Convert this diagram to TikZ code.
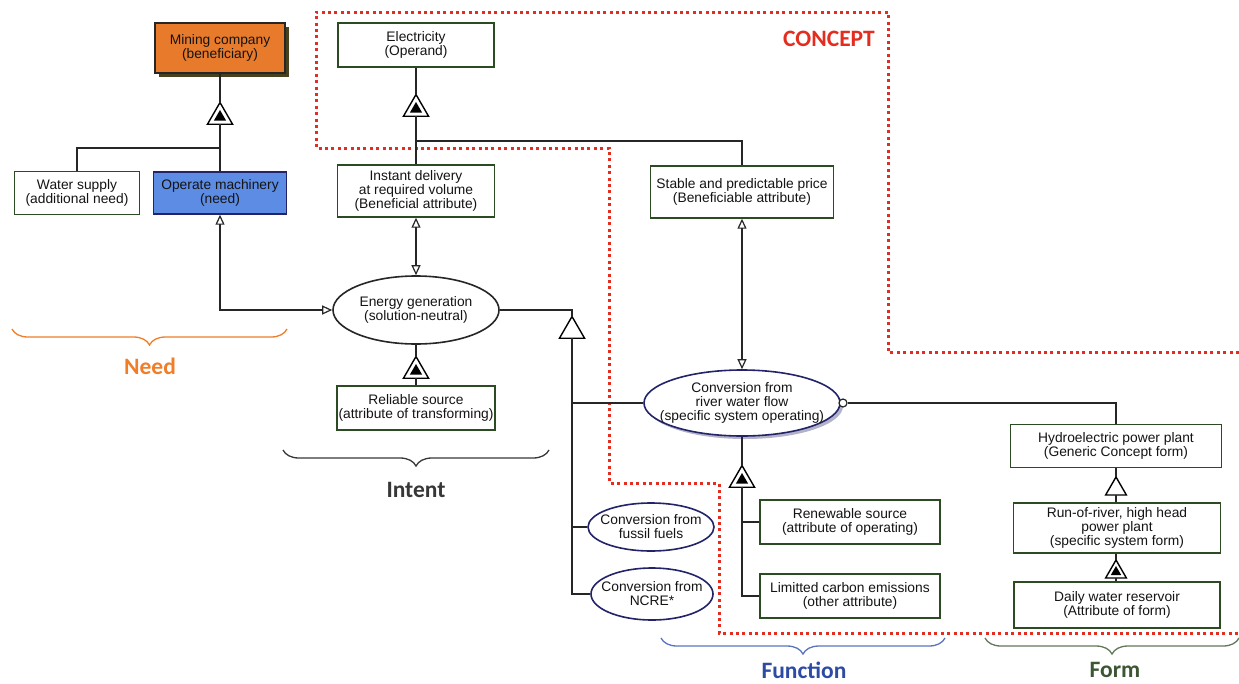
\documentclass[tikz,border=0pt]{standalone}
\usepackage{fontspec}
\setmainfont{Liberation Sans}
\newfontfamily\labfont{Carlito}
\usetikzlibrary{shapes.geometric, arrows.meta, decorations.pathreplacing, shadows}

\definecolor{boxgreen}{RGB}{45,75,35}
\definecolor{minefill}{RGB}{232,122,44}
\definecolor{opfill}{RGB}{92,140,228}
\definecolor{navy}{RGB}{35,35,105}
\definecolor{conred}{RGB}{228,45,30}
\definecolor{needorange}{RGB}{240,125,40}
\definecolor{intentgray}{RGB}{55,55,55}
\definecolor{funcblue}{RGB}{45,75,165}
\definecolor{funcbrace}{RGB}{90,115,190}
\definecolor{formgreen}{RGB}{60,85,50}
\definecolor{shadowol}{RGB}{70,65,30}

\begin{document}
\begin{tikzpicture}[x=1pt,y=-1pt,
  txt/.style={font=\fontsize{13.8}{14}\selectfont, text=black!92, align=center, inner sep=0pt},
  box/.style={txt, draw=boxgreen, line width=1.4pt, fill=white, inner sep=0pt},
  ell/.style={ellipse, draw=navy, line width=1.6pt, fill=white, inner sep=0pt},
  comptri/.style={regular polygon, regular polygon sides=3, draw=black, line width=1.4pt, fill=white, minimum size=29pt, inner sep=0pt, outer sep=0pt},
  comptrismall/.style={comptri, minimum size=24pt},
  fillcore/.style={regular polygon, regular polygon sides=3, fill=black, minimum size=#1, inner sep=0pt, outer sep=0pt},
  conn/.style={draw=black!85, line width=1.3pt},
  oarr/.tip={Triangle[open, length=10pt, width=9pt, line width=1.2pt]},
  lab/.style={font=\labfont\bfseries\fontsize{23.5}{26}\selectfont, inner sep=0pt},
  brc/.style={decorate, decoration={brace, mirror, amplitude=16pt}, line width=1.3pt},
  concept/.style={draw=conred, line width=3pt, dash pattern=on 3pt off 3.4pt}
]
\useasboundingbox (0,0) rectangle (1239,683);

% CONCEPT boundary
\draw[concept] (1239,352) -- (888,352) -- (888,12) -- (316,12) -- (316,148) -- (609,148) -- (609,483) -- (719,483) -- (719,633) -- (1239,633);
\node[lab, text=conred] (conceptlab) at (829,39) {CONCEPT};

% Need side
\node[box, draw=black!85, fill=minefill, minimum width=130pt, minimum height=50pt,
      drop shadow={shadow xshift=4pt, shadow yshift=-4pt, fill=shadowol, opacity=1}]
      (mining) at (220,48) {Mining company\\(beneficiary)};
\node[box, minimum width=125pt, minimum height=43pt] (water) at (77,193) {Water supply\\(additional need)};
\node[box, draw=navy, fill=opfill, minimum width=133pt, minimum height=42pt] (operate) at (220,193) {Operate machinery\\(need)};
\node[comptri] (t1) at (220,117) {};
\node[fillcore=14pt] (t1c) at (t1) {};
\coordinate (j1) at (220,148);

% Intent
\node[box, minimum width=156pt, minimum height=44pt] (electricity) at (416,45) {Electricity\\(Operand)};
\node[comptri] (t2) at (416,109) {};
\node[fillcore=14pt] (t2c) at (t2) {};
\coordinate (j2) at (416,141);
\node[box, minimum width=157pt, minimum height=52pt] (instant) at (416,191) {Instant delivery\\at required volume\\(Beneficial attribute)};
\node[box, minimum width=183pt, minimum height=52pt] (stable) at (742,192) {Stable and predictable price\\(Beneficiable attribute)};

\node[ell, draw=black!85, minimum width=166pt, minimum height=68pt] (energy) at (416,310) {};
\node[txt] (energyt) at (energy) {Energy generation\\(solution-neutral)};
\node[comptri] (t3) at (416,371) {};
\node[fillcore=14pt] (t3c) at (t3) {};
\node[box, minimum width=158pt, minimum height=44pt] (reliable) at (416,408) {Reliable source\\(attribute of transforming)};

% Function
\node[comptri] (t4) at (572,331) {};
\node[ell, minimum width=196pt, minimum height=66pt,
      drop shadow={shadow xshift=3pt, shadow yshift=-3pt, fill=navy!35, opacity=1}] (river) at (742,403) {};
\node[txt] (rivert) at (river) {Conversion from\\river water flow\\(specific system operating)};
\node[ell, minimum width=126pt, minimum height=48pt] (fossil) at (651,527) {};
\node[txt] (fossilt) at (fossil) {Conversion from\\fussil fuels};
\node[ell, minimum width=122pt, minimum height=52pt] (ncre) at (652,594) {};
\node[txt] (ncret) at (ncre) {Conversion from\\NCRE*};
\node[circle, draw=black!85, line width=1.2pt, fill=white, minimum size=8pt, inner sep=0pt] (ro) at (843,403) {};

\node[comptri] (t5) at (742,480) {};
\node[fillcore=14pt] (t5c) at (t5) {};
\node[box, minimum width=180pt, minimum height=44pt] (renewable) at (850,522) {Renewable source\\(attribute of operating)};
\node[box, minimum width=180pt, minimum height=44pt] (carbon) at (850,596) {Limitted carbon emissions\\(other attribute)};

% Form
\node[box, minimum width=211pt, minimum height=43pt] (hydro) at (1116,446) {Hydroelectric power plant\\(Generic Concept form)};
\node[comptrismall] (t6) at (1116,489) {};
\node[box, minimum width=207pt, minimum height=50pt] (runriver) at (1117,528) {Run-of-river, high head\\power plant\\(specific system form)};
\node[comptrismall] (t7) at (1116,572) {};
\node[fillcore=12pt] (t7c) at (t7) {};
\node[box, minimum width=206pt, minimum height=46pt] (daily) at (1117,605) {Daily water reservoir\\(Attribute of form)};

% connectors
\draw[conn] (mining.south) -- (t1.north);
\draw[conn] (t1.south) -- (operate.north);
\draw[conn] (water.north) |- (j1);

\draw[conn] (electricity.south) -- (t2.north);
\draw[conn] (t2.south) -- (instant.north);
\draw[conn] (j2) -| (stable.north);

\draw[conn, oarr-oarr] (instant.south) -- (energy.north);
\draw[conn, oarr-oarr] (operate.south) |- (energy.west);
\draw[conn] (energy.south) -- (t3.north);
\draw[conn] (t3.south) -- (reliable.north);

\draw[conn] (energy.east) -| (t4.north);
\draw[conn] (t4.south) |- (ncre.west);
\draw[conn] (t4.south |- river.west) -- (river.west);
\draw[conn] (t4.south |- fossil.west) -- (fossil.west);

\draw[conn, oarr-oarr] (stable.south) -- (river.north);
\draw[conn] (ro.east) -| (hydro.north);
\draw[conn] (river.south) -- (t5.north);
\draw[conn] (t5.south) |- (carbon.west);
\draw[conn] (t5.south |- renewable.west) -- (renewable.west);

\draw[conn] (hydro.south) -- (t6.north);
\draw[conn] (t6.south) -- (t6.south |- runriver.north);
\draw[conn] (runriver.south -| t7) -- (t7.north);
\draw[conn] (t7.south) -- (t7.south |- daily.north);

% braces and labels
\draw[brc, draw=needorange] (12,329) -- (287,329);
\node[lab, text=needorange] (needlab) at (150,366) {Need};
\draw[brc, draw=intentgray] (283,450) -- (549,450);
\node[lab, text=intentgray] (intentlab) at (416,490) {Intent};
\draw[brc, draw=funcbrace] (661,638) -- (945,638);
\node[lab, text=funcblue] (funclab) at (804,670) {Function};
\draw[brc, draw=formgreen!80] (985,638) -- (1239,638);
\node[lab, text=formgreen] (formlab) at (1115,670) {Form};
\end{tikzpicture}
\end{document}
